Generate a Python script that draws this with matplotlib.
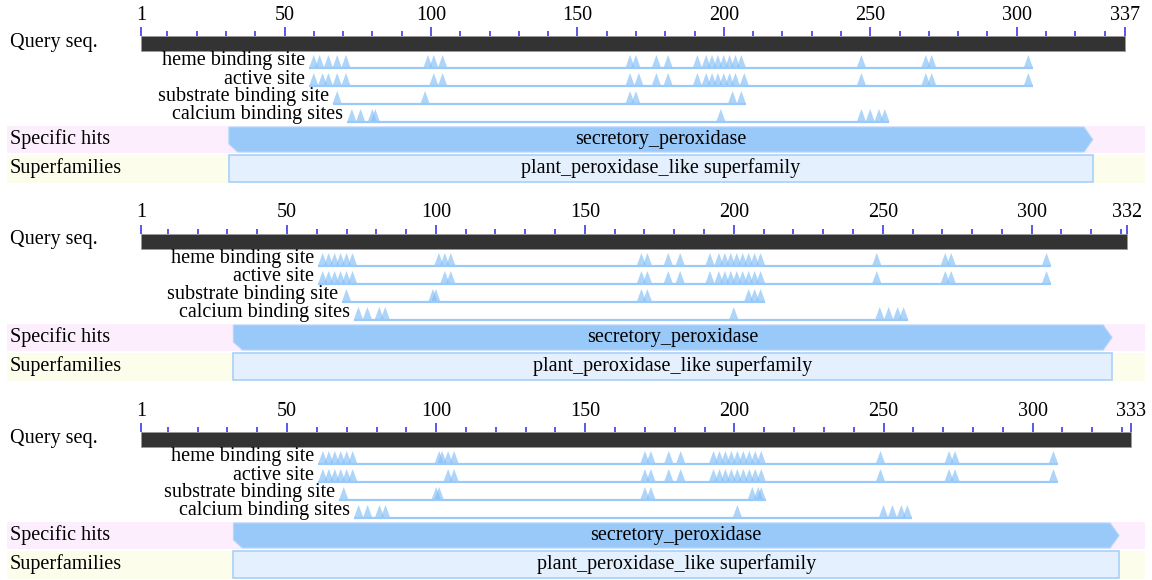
import matplotlib
matplotlib.use("Agg")
import matplotlib.pyplot as plt
from matplotlib.patches import Rectangle, Polygon
from matplotlib import transforms

plt.rcParams['font.family'] = ['Liberation Serif', 'DejaVu Serif']

# ---- data ----
seq_len = [337, 332, 333]
site_names = ["heme binding site", "active site", "substrate binding site", "calcium binding sites"]

heme = [
    [60, 62, 65, 68, 71, 99, 101, 104, 168, 170, 177, 181, 191, 194, 196, 198, 200, 202, 204, 206, 247, 269, 271, 304],
    [62, 64, 66, 68, 70, 72, 101, 103, 105, 169, 171, 178, 182, 192, 195, 197, 199, 201, 203, 205, 207, 209, 248, 271, 273, 305],
    [62, 64, 66, 68, 70, 72, 101, 102, 104, 106, 170, 172, 178, 182, 193, 195, 197, 199, 201, 203, 205, 207, 209, 249, 272, 274, 307],
]
active = [
    [60, 63, 65, 68, 71, 101, 104, 168, 171, 177, 181, 191, 194, 196, 198, 200, 202, 204, 207, 247, 269, 271, 304],
    [62, 64, 66, 68, 70, 72, 103, 105, 169, 171, 178, 182, 192, 195, 197, 199, 201, 203, 205, 207, 209, 248, 271, 273, 305],
    [62, 64, 66, 68, 70, 72, 104, 106, 170, 172, 178, 182, 193, 195, 197, 199, 201, 203, 205, 207, 209, 249, 272, 274, 307],
]
substrate = [
    [68, 98, 168, 170, 203, 206],
    [70, 99, 100, 169, 171, 205, 207, 209],
    [69, 100, 101, 170, 172, 206, 208, 209],
]
calcium = [
    [73, 76, 80, 81, 199, 247, 250, 253, 255],
    [74, 77, 81, 83, 200, 249, 252, 255, 257],
    [74, 77, 81, 83, 201, 250, 253, 256, 258],
]
hit_name = "secretory_peroxidase"
hit_start = [31, 32, 32]
hit_end = [326, 327, 329]
sf_name = "plant_peroxidase_like superfamily"

# pixel layout of the original graphic
W, H = 1152, 580
x_first = 141
x_last = [1125, 1127, 1131]
panel_top = [0, 198, 396]
panel_h = 184
fs = 14.5

fig = plt.figure(figsize=(W / 100, H / 100), dpi=100)

for p in range(3):
    L = seq_len[p]
    s = (x_last[p] - x_first) / (L - 1)  # px per residue
    top = panel_top[p]
    ax = fig.add_axes([0, 1 - (top + panel_h) / H, 1, panel_h / H])
    ax.set_xlim(1 - x_first / s, 1 + (W - x_first) / s)
    ax.set_ylim(panel_h, 0)
    ax.axis('off')
    tr = transforms.blended_transform_factory(ax.transAxes, ax.transData)

    # bands
    ax.add_patch(Rectangle((7 / W, 126), (1145 - 7) / W, 27, transform=tr,
                           facecolor='#fdeefd', edgecolor='none'))
    ax.add_patch(Rectangle((7 / W, 155), (1145 - 7) / W, 28, transform=tr,
                           facecolor='#fcfdea', edgecolor='none'))
    ax.text(10 / W, 42, "Query seq.", transform=tr, fontsize=fs, va='center')
    ax.text(10 / W, 139, "Specific hits", transform=tr, fontsize=fs, va='center')
    ax.text(10 / W, 168, "Superfamilies", transform=tr, fontsize=fs, va='center')

    # ruler
    ax.add_patch(Rectangle((1, 36), L - 1, 15, facecolor='#333333',
                           edgecolor='#9a9a9a', linewidth=0.6))
    for r in range(10, L, 10):
        major = r % 50 == 0
        ax.plot([r, r], [27 if major else 31, 36], color='#4a4af2', lw=1.3,
                solid_capstyle='butt')
    for r in [1, L]:
        ax.plot([r, r], [27, 36], color='#4a4af2', lw=1.3, solid_capstyle='butt')
    for r in [1] + list(range(50, L - 20, 50)) + [L]:
        ax.text(r, 15, str(r), fontsize=fs, ha='center', va='center')

    # site rows
    rows = [heme[p], active[p], substrate[p], calcium[p]]
    line_y = [68, 86, 104, 122]
    for name, pos, y in zip(site_names, rows, line_y):
        lo, hi = min(pos) - 1.5, max(pos) + 1.5
        ax.plot([lo, hi], [y, y], color='#9ccaf8', lw=1.6, solid_capstyle='butt')
        for r in pos:
            ax.add_patch(Polygon([(r - 1.6, y), (r, y - 13), (r + 1.6, y)],
                                 closed=True, facecolor='#82bdf6', alpha=0.65,
                                 edgecolor='none'))
        ax.text(lo - 4 / s, y - 7, name, fontsize=fs, ha='right', va='center')

    # specific hit (arrow-ended bar)
    a, b = hit_start[p], hit_end[p]
    bev = 3
    ax.add_patch(Polygon([(a, 127), (b - bev, 127), (b, 139.5), (b - bev, 152),
                          (a + bev, 152), (a, 144)], closed=True,
                         facecolor='#99c9f9', edgecolor='#b5d8fb', lw=0.8))
    ax.text((a + b) / 2, 139.5, hit_name, fontsize=fs, ha='center', va='center')

    # superfamily
    ax.add_patch(Rectangle((a, 155), b - a, 27, facecolor='#e4f0fd',
                           edgecolor='#a9d1fa', lw=1.2))
    ax.text((a + b) / 2, 168.5, sf_name, fontsize=fs, ha='center', va='center')

fig.savefig("out.png", dpi=100)
